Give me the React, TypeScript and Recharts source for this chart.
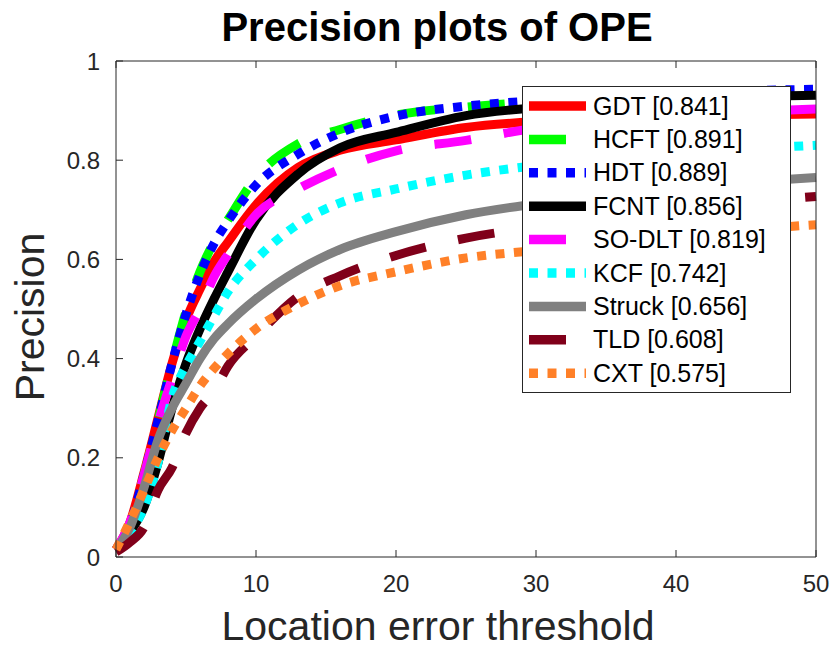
import React from 'react';
import { LineChart, Line, XAxis, YAxis, Legend } from 'recharts';

// location error thresholds (pixels)
const THRESHOLDS = [0, 1, 2, 3, 4, 5, 6, 7, 8, 10, 13, 16, 20, 25, 30, 35, 40, 45, 50];

// precision per tracker
const GDT = [0.015, 0.07, 0.17, 0.28, 0.39, 0.478, 0.54, 0.595, 0.635, 0.71, 0.785, 0.82, 0.841, 0.866, 0.878, 0.884, 0.888, 0.891, 0.893];
const HCFT = [0.015, 0.065, 0.165, 0.275, 0.39, 0.495, 0.575, 0.635, 0.68, 0.765, 0.833, 0.862, 0.891, 0.907, 0.918, 0.926, 0.933, 0.937, 0.94];
const HDT = [0.015, 0.065, 0.165, 0.275, 0.39, 0.49, 0.57, 0.632, 0.677, 0.75, 0.812, 0.855, 0.889, 0.909, 0.92, 0.929, 0.935, 0.94, 0.943];
const FCNT = [0.015, 0.05, 0.1, 0.19, 0.3, 0.39, 0.46, 0.52, 0.575, 0.68, 0.772, 0.825, 0.856, 0.89, 0.906, 0.916, 0.923, 0.928, 0.931];
const SO_DLT = [0.015, 0.07, 0.165, 0.27, 0.36, 0.445, 0.5, 0.565, 0.61, 0.69, 0.742, 0.782, 0.819, 0.84, 0.865, 0.88, 0.891, 0.898, 0.903];
const KCF = [0.015, 0.05, 0.1, 0.19, 0.32, 0.385, 0.435, 0.486, 0.535, 0.6, 0.671, 0.714, 0.742, 0.77, 0.789, 0.803, 0.814, 0.823, 0.83];
const STRUCK = [0.015, 0.06, 0.14, 0.236, 0.3, 0.35, 0.4, 0.44, 0.47, 0.52, 0.578, 0.62, 0.656, 0.69, 0.712, 0.73, 0.745, 0.756, 0.765];
const TLD = [0.01, 0.03, 0.06, 0.135, 0.18, 0.25, 0.3, 0.335, 0.385, 0.445, 0.525, 0.567, 0.608, 0.643, 0.665, 0.685, 0.703, 0.716, 0.727];
const CXT = [0.015, 0.072, 0.135, 0.2, 0.255, 0.3, 0.345, 0.38, 0.41, 0.46, 0.51, 0.547, 0.575, 0.603, 0.618, 0.633, 0.647, 0.66, 0.67];

const X_TICKS = [0, 10, 20, 30, 40, 50];
const Y_TICKS = [0, 0.2, 0.4, 0.6, 0.8, 1];

const DOTS = '9 9.5';
const DASHES = '37 33';

// draw order = legend order (later ones sit on top)
const SERIES = [
  { key: 'GDT', label: 'GDT [0.841]', values: GDT, color: '#ff0000', dash: undefined },
  { key: 'HCFT', label: 'HCFT [0.891]', values: HCFT, color: '#00ff00', dash: DASHES },
  { key: 'HDT', label: 'HDT [0.889]', values: HDT, color: '#0000ff', dash: DOTS },
  { key: 'FCNT', label: 'FCNT [0.856]', values: FCNT, color: '#000000', dash: undefined },
  { key: 'SO_DLT', label: 'SO-DLT [0.819]', values: SO_DLT, color: '#ff00ff', dash: DASHES },
  { key: 'KCF', label: 'KCF [0.742]', values: KCF, color: '#00ffff', dash: DOTS },
  { key: 'Struck', label: 'Struck [0.656]', values: STRUCK, color: '#808080', dash: undefined },
  { key: 'TLD', label: 'TLD [0.608]', values: TLD, color: '#80001a', dash: DASHES },
  { key: 'CXT', label: 'CXT [0.575]', values: CXT, color: '#ff8028', dash: DOTS },
];

const data = THRESHOLDS.map((t, i) => {
  const row: { [k: string]: number } = { t };
  SERIES.forEach((s) => { row[s.key] = s.values[i]; });
  return row;
});

const FONT = '"Liberation Sans", Arial, Helvetica, sans-serif';
const AXIS = '#262626';
const TICK_LEN = 7;

// ticks point inwards like MATLAB's, labels sit outside the box
const BottomTick = ({ x, y, payload }: any) => (
  <g>
    <line x1={x} y1={y} x2={x} y2={y - TICK_LEN} stroke={AXIS} />
    <text x={x} y={y + 35} textAnchor="middle" fontSize={24} fill={AXIS} fontFamily={FONT}>
      {payload.value}
    </text>
  </g>
);

const LeftTick = ({ x, y, payload }: any) => (
  <g>
    <line x1={x} y1={y} x2={x + TICK_LEN} y2={y} stroke={AXIS} />
    <text x={x - 16} y={y + 8.5} textAnchor="end" fontSize={24} fill={AXIS} fontFamily={FONT}>
      {payload.value}
    </text>
  </g>
);

const TopTick = ({ x, y }: any) => (
  <line x1={x} y1={y} x2={x} y2={y + TICK_LEN} stroke={AXIS} />
);

const RightTick = ({ x, y }: any) => (
  <line x1={x} y1={y} x2={x - TICK_LEN} y2={y} stroke={AXIS} />
);

const LEGEND_W = 269;
const LEGEND_H = 307;
const ROW_H = 33.4;

const LegendBox = () => (
  <svg width={LEGEND_W} height={LEGEND_H} style={{ display: 'block' }}>
    <rect x={0.5} y={0.5} width={LEGEND_W - 1} height={LEGEND_H - 1} fill="#fff" stroke={AXIS} />
    {SERIES.map((s, i) => {
      const cy = 20 + i * ROW_H;
      return (
        <g key={s.key}>
          <line
            x1={7}
            x2={64}
            y1={cy}
            y2={cy}
            stroke={s.color}
            strokeWidth={9.5}
            strokeDasharray={s.dash}
          />
          <text x={71} y={cy + 8.5} fontSize={25} fill="#000" fontFamily={FONT}>
            {s.label}
          </text>
        </g>
      );
    })}
  </svg>
);

export default function App() {
  return (
    <div style={{ position: 'absolute', left: 0, top: 0, width: 830, height: 650, background: '#fff' }}>
      <LineChart
        width={830}
        height={650}
        data={data}
        margin={{ top: 60, right: 13, bottom: 92, left: 115 }}
      >
        <XAxis
          dataKey="t"
          type="number"
          domain={[0, 50]}
          ticks={X_TICKS}
          interval={0}
          height={1}
          tickSize={0}
          tickMargin={0}
          tickLine={false}
          axisLine={{ stroke: AXIS }}
          tick={<BottomTick />}
        />
        <XAxis
          xAxisId="top"
          orientation="top"
          dataKey="t"
          type="number"
          domain={[0, 50]}
          ticks={X_TICKS}
          interval={0}
          height={1}
          tickSize={0}
          tickMargin={0}
          tickLine={false}
          axisLine={{ stroke: AXIS }}
          tick={<TopTick />}
        />
        <YAxis
          type="number"
          domain={[0, 1]}
          ticks={Y_TICKS}
          interval={0}
          width={1}
          tickSize={0}
          tickMargin={0}
          tickLine={false}
          axisLine={{ stroke: AXIS }}
          tick={<LeftTick />}
        />
        <YAxis
          yAxisId="right"
          orientation="right"
          type="number"
          domain={[0, 1]}
          ticks={Y_TICKS}
          interval={0}
          width={1}
          tickSize={0}
          tickMargin={0}
          tickLine={false}
          axisLine={{ stroke: AXIS }}
          tick={<RightTick />}
        />
        {SERIES.map((s) => (
          <Line
            key={s.key}
            type="monotone"
            dataKey={s.key}
            stroke={s.color}
            strokeWidth={9}
            strokeDasharray={s.dash}
            strokeLinecap="butt"
            strokeLinejoin="round"
            dot={false}
            activeDot={false}
            isAnimationActive={false}
          />
        ))}
        <Legend
          layout="vertical"
          align="center"
          verticalAlign="middle"
          wrapperStyle={{ position: 'absolute', left: 522, top: 86, width: LEGEND_W, height: LEGEND_H }}
          content={<LegendBox />}
        />
        <text x={437} y={41} textAnchor="middle" fontSize={40} fontWeight="bold" fill="#000" fontFamily={FONT}>
          Precision plots of OPE
        </text>
        <text x={438} y={640} textAnchor="middle" fontSize={41} fill={AXIS} fontFamily={FONT}>
          Location error threshold
        </text>
        <text
          x={44}
          y={317}
          textAnchor="middle"
          fontSize={41}
          fill={AXIS}
          fontFamily={FONT}
          transform="rotate(-90, 44, 317)"
        >
          Precision
        </text>
      </LineChart>
    </div>
  );
}
